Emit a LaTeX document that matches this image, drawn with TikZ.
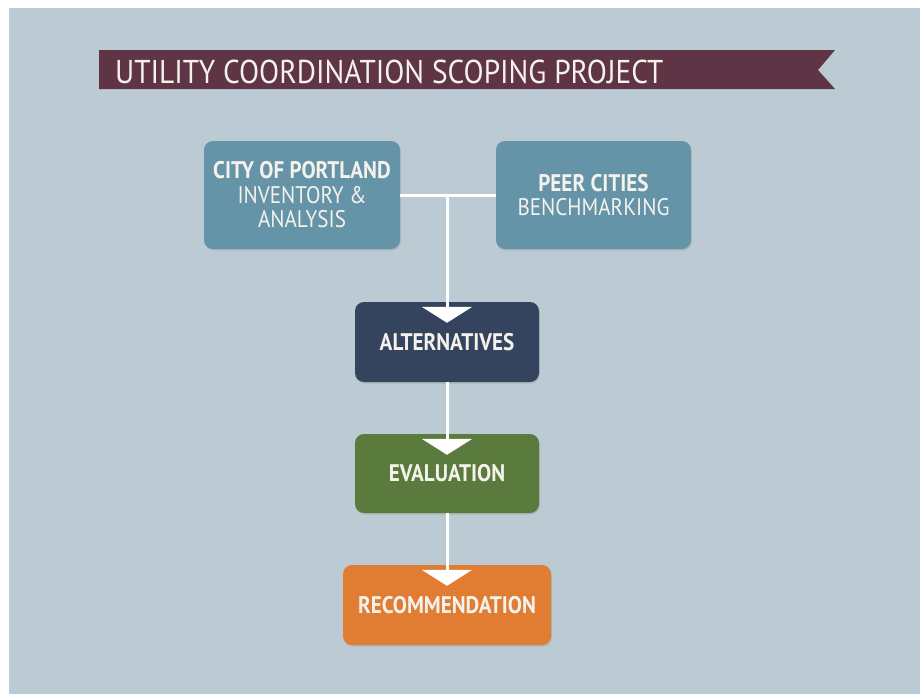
\documentclass[tikz,border=0pt]{standalone}
\usepackage{fontspec}
\setmainfont{PT Sans}
\newfontfamily\boxfont[FakeStretch=0.88]{PT Sans}
\newfontfamily\titlefont[FakeStretch=0.89]{PT Sans}
\usetikzlibrary{arrows.meta,shadows,calc}
\definecolor{bgblue}{HTML}{BCCAD3}
\definecolor{banner}{HTML}{5F3545}
\definecolor{steel}{HTML}{6593A7}
\definecolor{navy}{HTML}{35445E}
\definecolor{moss}{HTML}{5B7A3D}
\definecolor{amber}{HTML}{E17C33}
\definecolor{ink}{HTML}{F5F2EC}
\tikzset{
  stagebox/.style={rounded corners=9pt, inner sep=0pt, text=ink, align=center,
    font=\boxfont\fontsize{24}{24.5}\selectfont,
    drop shadow={shadow xshift=0.8pt, shadow yshift=-1.5pt, opacity=0.25}},
  stepname/.style={stagebox, font=\boxfont\bfseries\fontsize{24}{26}\selectfont,
    minimum height=80pt},
  flow/.style={draw=white, line width=3pt},
  flowarrow/.style={flow, -{Triangle[width=50pt,length=16pt]}},
}
\begin{document}
\begin{tikzpicture}[x=1pt,y=-1pt]
\useasboundingbox (0,0) rectangle (920,694);
% page and background panel
\fill[white] (0,0) rectangle (920,694);
\fill[bgblue] (9,8) rectangle (920,694);
% title ribbon with a notched right end
\fill[banner] (99,50) -- (835,50) -- (818,70) -- (835,89) -- (99,89) -- cycle;
\node[anchor=base west, inner sep=0pt, text=ink,
      font=\titlefont\fontsize{33}{36}\selectfont] (title) at (115,83)
  {UTILITY COORDINATION SCOPING PROJECT};
% stage boxes
\node[stagebox, fill=steel, minimum width=196pt, minimum height=108pt] (city) at (302,195)
  {\textbf{CITY OF PORTLAND}\\INVENTORY \&\\ANALYSIS};
\node[stagebox, fill=steel, minimum width=195pt, minimum height=108pt] (peer) at (593.5,195)
  {\textbf{PEER CITIES}\\BENCHMARKING};
\node[stepname, fill=navy, minimum width=184pt] (alt) at (447,342) {ALTERNATIVES};
\node[stepname, fill=moss, minimum width=184pt, minimum height=79pt] (eval) at (447,473.5) {EVALUATION};
\node[stepname, fill=amber, minimum width=208pt] (rec) at (447,605) {RECOMMENDATION};
% connectors
\coordinate (join) at (alt.north |- city.east);
\draw[flow] (city.east) -- (peer.west);
\draw[flowarrow] (join) -- ($(alt.north)+(0,21)$);
\draw[flowarrow] (alt.south) -- ($(eval.north)+(0,21)$);
\draw[flowarrow] (eval.south) -- ($(rec.north)+(0,21)$);
\end{tikzpicture}
\end{document}
